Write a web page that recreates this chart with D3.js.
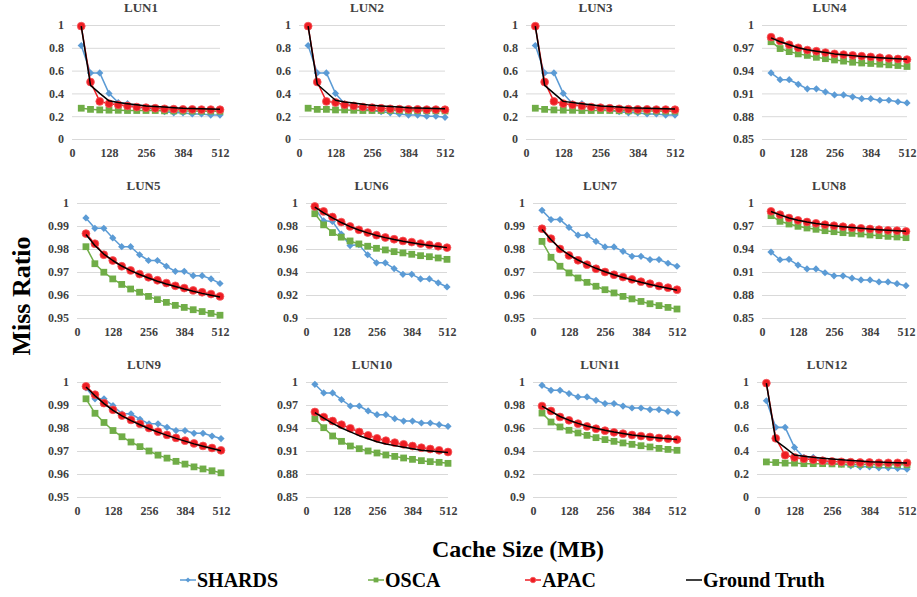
<!DOCTYPE html>
<html>
<head>
<meta charset="utf-8">
<script src="https://cdn.jsdelivr.net/npm/d3@7"></script>
<style>
  body { margin: 0; background: #fff; }
  svg { display: block; font-family: "Liberation Serif", "Times New Roman", serif; }
</style>
</head>
<body>
<script>
const width = 917;
const height = 597;

// cache sizes (MB)
const sizes = [32, 64, 96, 128, 160, 192, 224, 256, 288, 320, 352, 384, 416, 448, 480, 512];
const xTicks = [0, 128, 256, 384, 512];

const lunNames = ["LUN1", "LUN2", "LUN3", "LUN4", "LUN5", "LUN6",
  "LUN7", "LUN8", "LUN9", "LUN10", "LUN11", "LUN12"];

const ticksA = [0, 0.2, 0.4, 0.6, 0.8, 1];
const ticksB = [0.85, 0.88, 0.91, 0.94, 0.97, 1];
const ticksC = [0.95, 0.96, 0.97, 0.98, 0.99, 1];
const ticksD = [0.9, 0.92, 0.94, 0.96, 0.98, 1];
const yTicks = [ticksA, ticksA, ticksA, ticksB, ticksC, ticksD,
  ticksC, ticksB, ticksC, ticksB, ticksD, ticksA];

const shardsData = [
  [0.82, 0.58, 0.58, 0.40, 0.32, 0.31, 0.28, 0.27, 0.26, 0.24, 0.23, 0.23, 0.22, 0.22, 0.21, 0.21],
  [0.82, 0.58, 0.58, 0.40, 0.31, 0.29, 0.27, 0.25, 0.24, 0.23, 0.22, 0.21, 0.21, 0.20, 0.20, 0.19],
  [0.82, 0.58, 0.58, 0.40, 0.31, 0.31, 0.28, 0.26, 0.25, 0.24, 0.23, 0.23, 0.22, 0.22, 0.21, 0.21],
  [0.937, 0.928, 0.928, 0.922, 0.916, 0.916, 0.912, 0.908, 0.908, 0.9055, 0.903, 0.903, 0.901, 0.901, 0.899, 0.8975],
  [0.9935, 0.989, 0.989, 0.9848, 0.981, 0.981, 0.9775, 0.975, 0.975, 0.9725, 0.9703, 0.9703, 0.9684, 0.9684, 0.967, 0.965],
  [0.9956, 0.9845, 0.984, 0.973, 0.963, 0.9638, 0.955, 0.948, 0.948, 0.943, 0.938, 0.938, 0.934, 0.934, 0.9306, 0.927],
  [0.9968, 0.9928, 0.9928, 0.9894, 0.986, 0.986, 0.9833, 0.9809, 0.9809, 0.979, 0.9768, 0.9768, 0.9754, 0.9754, 0.9738, 0.9725],
  [0.936, 0.926, 0.9265, 0.919, 0.914, 0.914, 0.909, 0.905, 0.905, 0.902, 0.8996, 0.8996, 0.897, 0.897, 0.8948, 0.8922],
  [0.9974, 0.9927, 0.9927, 0.9897, 0.9862, 0.9862, 0.9838, 0.9818, 0.9818, 0.9803, 0.9789, 0.9789, 0.9777, 0.9777, 0.9765, 0.9754],
  [0.997, 0.9857, 0.9857, 0.977, 0.9687, 0.9687, 0.9622, 0.9574, 0.9574, 0.9522, 0.9491, 0.9491, 0.9465, 0.9465, 0.9443, 0.9422],
  [0.9971, 0.9928, 0.9928, 0.9899, 0.987, 0.987, 0.9841, 0.9812, 0.9812, 0.9791, 0.9774, 0.9774, 0.976, 0.976, 0.9745, 0.973],
  [0.837, 0.606, 0.606, 0.431, 0.344, 0.344, 0.32, 0.29, 0.286, 0.271, 0.262, 0.262, 0.254, 0.254, 0.248, 0.242]
];

const oscaData = [
  [0.27, 0.26, 0.255, 0.253, 0.252, 0.25, 0.25, 0.25, 0.25, 0.247, 0.246, 0.245, 0.245, 0.244, 0.244, 0.243],
  [0.27, 0.26, 0.26, 0.255, 0.255, 0.252, 0.25, 0.25, 0.25, 0.25, 0.25, 0.248, 0.248, 0.247, 0.247, 0.246],
  [0.27, 0.26, 0.255, 0.253, 0.252, 0.25, 0.25, 0.25, 0.25, 0.248, 0.247, 0.246, 0.245, 0.245, 0.244, 0.244],
  [0.978, 0.969, 0.965, 0.962, 0.960, 0.9575, 0.9557, 0.954, 0.9525, 0.951, 0.950, 0.9494, 0.9485, 0.9476, 0.9467, 0.9454],
  [0.981, 0.9736, 0.9699, 0.967, 0.9646, 0.9626, 0.9612, 0.9594, 0.958, 0.9568, 0.9555, 0.9546, 0.9536, 0.9528, 0.952, 0.9512],
  [0.9907, 0.981, 0.9743, 0.9703, 0.967, 0.9644, 0.9624, 0.9606, 0.9592, 0.9577, 0.9566, 0.9554, 0.9542, 0.9533, 0.9522, 0.951],
  [0.9833, 0.9764, 0.9725, 0.9696, 0.9674, 0.9655, 0.9638, 0.9623, 0.9609, 0.9594, 0.9583, 0.9572, 0.9562, 0.9554, 0.9546, 0.9539],
  [0.9835, 0.9761, 0.9726, 0.9696, 0.9674, 0.9657, 0.9639, 0.9626, 0.9613, 0.9604, 0.9596, 0.9583, 0.9574, 0.9565, 0.9557, 0.9548],
  [0.9927, 0.9864, 0.9824, 0.9789, 0.9762, 0.9739, 0.9719, 0.970, 0.9682, 0.9669, 0.9655, 0.9643, 0.9631, 0.9622, 0.9614, 0.9605],
  [0.9522, 0.9404, 0.9296, 0.9226, 0.9165, 0.913, 0.910, 0.9074, 0.9048, 0.903, 0.9009, 0.8991, 0.8974, 0.8961, 0.8952, 0.8939],
  [0.973, 0.9652, 0.9609, 0.958, 0.9557, 0.9536, 0.9516, 0.9499, 0.9484, 0.947, 0.9458, 0.9446, 0.9435, 0.9423, 0.9414, 0.9406],
  [0.305, 0.30, 0.295, 0.295, 0.29, 0.29, 0.29, 0.288, 0.285, 0.285, 0.283, 0.282, 0.28, 0.28, 0.28, 0.28]
];

const apacData = [
  [0.99, 0.50, 0.33, 0.31, 0.30, 0.29, 0.28, 0.275, 0.27, 0.265, 0.262, 0.26, 0.26, 0.258, 0.258, 0.257],
  [0.99, 0.50, 0.33, 0.32, 0.30, 0.29, 0.28, 0.275, 0.27, 0.265, 0.262, 0.26, 0.26, 0.258, 0.258, 0.257],
  [0.99, 0.50, 0.33, 0.31, 0.30, 0.29, 0.28, 0.275, 0.27, 0.265, 0.262, 0.26, 0.26, 0.258, 0.258, 0.257],
  [0.984, 0.979, 0.974, 0.970, 0.967, 0.9655, 0.9637, 0.962, 0.961, 0.960, 0.959, 0.958, 0.957, 0.956, 0.9553, 0.9545],
  [0.9867, 0.9823, 0.9775, 0.975, 0.9725, 0.9707, 0.9691, 0.9677, 0.9664, 0.9652, 0.964, 0.963, 0.962, 0.9612, 0.9604, 0.9594],
  [0.997, 0.9927, 0.9878, 0.9834, 0.9796, 0.9767, 0.9743, 0.972, 0.970, 0.9685, 0.967, 0.966, 0.9647, 0.9636, 0.9624, 0.9612],
  [0.9888, 0.9845, 0.980, 0.9772, 0.9751, 0.9732, 0.9714, 0.970, 0.9688, 0.9678, 0.9668, 0.9658, 0.9649, 0.9639, 0.9632, 0.9623],
  [0.9891, 0.9848, 0.9804, 0.9774, 0.9752, 0.9735, 0.9717, 0.9704, 0.9691, 0.9678, 0.967, 0.9661, 0.9652, 0.9643, 0.9639, 0.963],
  [0.9981, 0.9945, 0.9908, 0.9879, 0.9854, 0.9835, 0.9818, 0.980, 0.9784, 0.977, 0.9757, 0.9745, 0.9733, 0.9722, 0.9713, 0.9703],
  [0.9609, 0.9543, 0.9491, 0.9443, 0.9396, 0.9348, 0.9304, 0.9265, 0.9235, 0.9209, 0.9187, 0.9165, 0.9143, 0.9126, 0.9109, 0.9087],
  [0.9791, 0.9748, 0.9696, 0.9667, 0.9638, 0.9614, 0.9594, 0.9577, 0.9562, 0.9551, 0.9539, 0.953, 0.9522, 0.9513, 0.9507, 0.9499],
  [0.99, 0.51, 0.364, 0.344, 0.332, 0.324, 0.315, 0.309, 0.306, 0.303, 0.30, 0.30, 0.297, 0.297, 0.297, 0.297]
];

const truthData = [
  [0.99, 0.47, 0.40, 0.335, 0.32, 0.31, 0.30, 0.29, 0.285, 0.28, 0.275, 0.27, 0.268, 0.265, 0.263, 0.26],
  [0.99, 0.48, 0.41, 0.34, 0.325, 0.315, 0.305, 0.295, 0.29, 0.285, 0.28, 0.275, 0.272, 0.27, 0.268, 0.265],
  [0.99, 0.47, 0.40, 0.33, 0.32, 0.31, 0.30, 0.29, 0.285, 0.28, 0.275, 0.272, 0.27, 0.268, 0.265, 0.263],
  [0.983, 0.978, 0.974, 0.970, 0.9675, 0.9655, 0.9637, 0.962, 0.9608, 0.9597, 0.9587, 0.9578, 0.957, 0.9563, 0.9556, 0.955],
  [0.9863, 0.9815, 0.9778, 0.975, 0.9726, 0.9706, 0.9689, 0.9674, 0.966, 0.9648, 0.9637, 0.9626, 0.9616, 0.9607, 0.9599, 0.9591],
  [0.9965, 0.9915, 0.987, 0.983, 0.9795, 0.9765, 0.974, 0.9718, 0.9699, 0.9682, 0.9667, 0.9654, 0.9642, 0.9631, 0.9621, 0.9612],
  [0.9885, 0.984, 0.9802, 0.9775, 0.9752, 0.9733, 0.9716, 0.9701, 0.9688, 0.9676, 0.9665, 0.9655, 0.9646, 0.9637, 0.9629, 0.9621],
  [0.989, 0.9845, 0.9805, 0.9776, 0.9753, 0.9734, 0.9718, 0.9704, 0.9691, 0.968, 0.967, 0.9661, 0.9652, 0.9645, 0.9638, 0.9631],
  [0.9978, 0.994, 0.9906, 0.9877, 0.9853, 0.9832, 0.9814, 0.9797, 0.9782, 0.9768, 0.9755, 0.9743, 0.9731, 0.9721, 0.9711, 0.9701],
  [0.960, 0.953, 0.946, 0.940, 0.935, 0.930, 0.926, 0.922, 0.919, 0.917, 0.915, 0.913, 0.911, 0.910, 0.909, 0.908],
  [0.979, 0.9745, 0.970, 0.9668, 0.964, 0.9617, 0.9597, 0.958, 0.9565, 0.9552, 0.954, 0.953, 0.9521, 0.9513, 0.9506, 0.95],
  [0.99, 0.49, 0.43, 0.365, 0.355, 0.345, 0.338, 0.33, 0.323, 0.317, 0.312, 0.307, 0.304, 0.301, 0.298, 0.296]
];

const seriesNames = ["SHARDS", "OSCA", "APAC", "Ground Truth"];

// layout (pixels)
const rowTop = [25, 203, 382];
const rowBottom = [139, 318, 497];
const panelX = [
  [72, 220], [299, 445], [526, 675], [762, 907],
  [77, 220], [306, 447], [533, 677], [762, 906],
  [77, 221], [306, 448], [533, 677], [757, 907]
];

const styles = [
  { color: "#5b9bd5", marker: "diamond" },
  { color: "#70ad47", marker: "square" },
  { color: "#ee1d23", marker: "circle" },
  { color: "#000000", marker: null }
];

const svg = d3.select("body").append("svg")
  .attr("width", width)
  .attr("height", height)
  .attr("viewBox", [0, 0, width, height]);

function drawMarker(sel, kind, color, k) {
  // k scales the marker area (legend markers are smaller)
  if (kind === "diamond") {
    sel.append("path")
      .attr("d", d3.symbol(d3.symbolSquare, 26 * k)())
      .attr("transform", (d) => d + " rotate(45)")
      .attr("fill", color);
  } else if (kind === "square") {
    sel.append("path")
      .attr("d", d3.symbol(d3.symbolSquare, 46 * k)())
      .attr("transform", (d) => d)
      .attr("fill", color);
  } else if (kind === "circle") {
    sel.append("path")
      .attr("d", d3.symbol(d3.symbolCircle, 48 * k)())
      .attr("transform", (d) => d)
      .attr("fill", color)
      .attr("stroke", "#f5585c")
      .attr("stroke-width", 0.8);
  }
}

lunNames.forEach(function (name, i) {
  const row = Math.floor(i / 4);
  const [x0, x1] = panelX[i];
  const ticks = yTicks[i];
  const g = svg.append("g").attr("class", "panel");

  const x = d3.scaleLinear().domain([0, 512]).range([x0, x1]);
  const y = d3.scaleLinear()
    .domain([ticks[0], ticks[ticks.length - 1]])
    .range([rowBottom[row], rowTop[row]]);

  // y axis with gridlines
  const yAxis = g.append("g")
    .attr("transform", "translate(" + x0 + ",0)")
    .call(d3.axisLeft(y)
      .tickValues(ticks)
      .tickSizeInner(-(x1 - x0))
      .tickSizeOuter(0)
      .tickPadding(8)
      .tickFormat(d3.format("~g")));
  yAxis.select(".domain").remove();
  yAxis.selectAll("line").attr("stroke", "#d9d9d9").attr("stroke-width", 1);
  yAxis.selectAll("text")
    .attr("font-family", "Liberation Serif, serif")
    .attr("font-size", "12px")
    .attr("font-weight", "bold")
    .attr("fill", "#404040");

  const xAxis = g.append("g")
    .attr("transform", "translate(0," + rowBottom[row] + ")")
    .call(d3.axisBottom(x).tickValues(xTicks).tickSize(0).tickPadding(9));
  xAxis.select(".domain").remove();
  xAxis.selectAll("text")
    .attr("font-family", "Liberation Serif, serif")
    .attr("font-size", "12px")
    .attr("font-weight", "bold")
    .attr("fill", "#404040");

  g.append("text")
    .attr("x", (x0 + x1) / 2 - 5)
    .attr("y", rowTop[row] - 13)
    .attr("text-anchor", "middle")
    .attr("font-size", "13px")
    .attr("font-weight", "bold")
    .attr("fill", "#404040")
    .text(name);

  const allSeries = [shardsData[i], oscaData[i], apacData[i], truthData[i]];
  const line = d3.line()
    .x((d, j) => x(sizes[j]))
    .y((d) => y(d));

  allSeries.forEach(function (values, s) {
    const st = styles[s];
    g.append("path")
      .datum(values)
      .attr("fill", "none")
      .attr("stroke", st.color)
      .attr("stroke-width", 1.5)
      .attr("stroke-linejoin", "round")
      .attr("d", line);
    if (st.marker) {
      const pts = g.append("g")
        .selectAll("g")
        .data(values.map((v, j) => "translate(" + x(sizes[j]) + "," + y(v) + ")"))
        .enter();
      drawMarker(pts, st.marker, st.color, 1);
    }
  });
});

// axis titles
svg.append("text")
  .attr("transform", "translate(30,296) rotate(-90)")
  .attr("text-anchor", "middle")
  .attr("font-size", "26px")
  .attr("font-weight", "bold")
  .attr("fill", "#000")
  .text("Miss Ratio");

svg.append("text")
  .attr("x", 518)
  .attr("y", 557)
  .attr("text-anchor", "middle")
  .attr("font-size", "24px")
  .attr("font-weight", "bold")
  .attr("fill", "#000")
  .text("Cache Size (MB)");

// legend
const legendX = [180, 368, 525, 686];
const legendY = 580;
seriesNames.forEach(function (label, s) {
  const st = styles[s];
  const lg = svg.append("g").attr("class", "legend-item");
  lg.append("line")
    .attr("x1", legendX[s])
    .attr("x2", legendX[s] + 16)
    .attr("y1", legendY)
    .attr("y2", legendY)
    .attr("stroke", st.color)
    .attr("stroke-width", 1.5);
  if (st.marker) {
    const m = lg.selectAll("g")
      .data(["translate(" + (legendX[s] + 8) + "," + legendY + ")"])
      .enter();
    drawMarker(m, st.marker, st.color, 0.5);
  }
  lg.append("text")
    .attr("x", legendX[s] + 17)
    .attr("y", legendY + 7)
    .attr("font-size", "20px")
    .attr("font-weight", "bold")
    .attr("fill", "#000")
    .text(label);
});
</script>
</body>
</html>
